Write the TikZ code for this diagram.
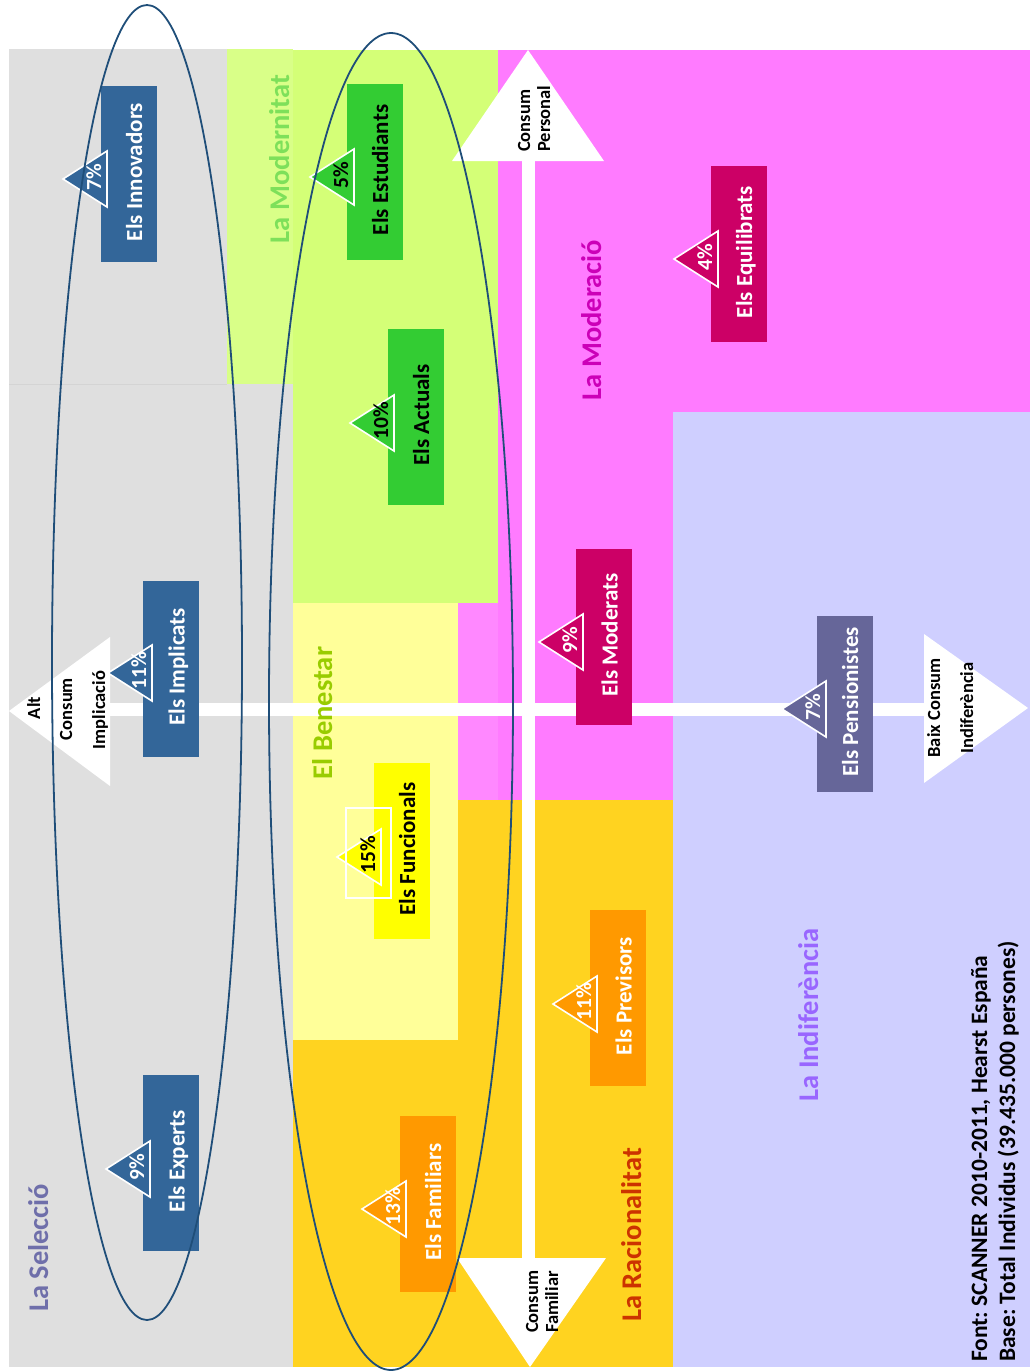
\documentclass[tikz,border=0pt]{standalone}
\usepackage{fontspec}
\setmainfont{Carlito}
\usetikzlibrary{calc}
\frenchspacing
\definecolor{cgray}{HTML}{DFDFDF}
\definecolor{cmodlight}{HTML}{D9FF88}
\definecolor{cgreen}{HTML}{D4FF77}
\definecolor{cyel}{HTML}{FFFF99}
\definecolor{cpink}{HTML}{FF7BFF}
\definecolor{cpinkb}{HTML}{FF88FF}
\definecolor{corange}{HTML}{FFD320}
\definecolor{clav}{HTML}{CFCFFF}
\definecolor{bblue}{HTML}{336699}
\definecolor{bgreen}{HTML}{33CC33}
\definecolor{byellow}{HTML}{FFFF00}
\definecolor{borange}{HTML}{FF9900}
\definecolor{bmag}{HTML}{CC0066}
\definecolor{bpurple}{HTML}{666699}
\definecolor{ellcol}{HTML}{1F4E79}
\definecolor{lsel}{HTML}{6F6FAA}
\definecolor{lmod}{HTML}{7EE05A}
\definecolor{lben}{HTML}{99CC00}
\definecolor{lmoder}{HTML}{CC00B8}
\definecolor{lrac}{HTML}{CC3300}
\definecolor{lind}{HTML}{9966FF}
\newcommand{\segm}[6]{% name, cx, cy, fill, textcolor, text
  \node[segbox, fill=#4] (#1) at (#2,#3) {};
  \node[segtext, text=#5, anchor=base] (#1t) at ($(#1.center)+(13.5,-2)$) {#6};
}
\newcommand{\pctri}[6]{% name, tipx, tipy, fill, textcolor, text
  \filldraw[fill=#4, draw=white, line width=1.6pt] (#2,#3) -- ++(44,-28) -- ++(0,56) -- cycle;
  \node[pcttext, text=#5, anchor=base] (#1) at (#2+38,#3-2) {#6};
}
\begin{document}
\frenchspacing
\begin{tikzpicture}[x=1pt,y=-1pt,
  segbox/.style={rectangle, rotate=90, minimum width=176pt, minimum height=56pt, inner sep=0pt},
  segtext/.style={rotate=90, font=\fontsize{23}{27}\selectfont\bfseries, inner sep=0pt},
  pcttext/.style={rotate=90, font=\fontsize{21.5}{24}\selectfont\bfseries, inner sep=0pt},
  grouplabel/.style={rotate=90, font=\fontsize{28.5}{32}\selectfont\bfseries, inner sep=0pt, anchor=base},
  axislabel/.style={rotate=90, font=\fontsize{18.5}{22}\selectfont\bfseries, inner sep=0pt, text=black},
  srclabel/.style={rotate=90, font=\fontsize{23.5}{27}\selectfont\bfseries\frenchspacing, inner sep=0pt, text=black, anchor=base west},
  axisbar/.style={white, line width=13pt},
  axishead/.style={fill=white},
  ellline/.style={draw=ellcol, line width=1.8pt}
]
\useasboundingbox (0,0) rectangle (1030,1371);
% background regions
\fill[cgray] (9,49) rectangle (293,1367);
\draw[cgray!95!black, line width=0.8pt] (9,384) -- (227,384);
\fill[cmodlight] (227,49) rectangle (293,384);
\fill[cgreen] (293,50) rectangle (498,603);
\fill[cyel] (293,603) rectangle (458,1040);
\fill[cpinkb] (458,603) rectangle (498,800);
\fill[cpink] (498,50) rectangle (673,800);
\fill[cpink] (673,50) rectangle (1030,412);
\fill[corange] (458,800) rectangle (673,1367);
\fill[corange] (293,1040) rectangle (458,1367);
\fill[clav] (673,412) rectangle (1030,1367);
% axes
\coordinate (hL) at (110,709);
\coordinate (hR) at (924,709);
\coordinate (vT) at (528.5,161);
\coordinate (vB) at (528.5,1258);
\draw[axisbar] (hL) -- (hR);
\draw[axisbar] (vT) -- (vB);
\fill[axishead] (9,711) -- (110,637) -- (110,786) -- cycle;
\fill[axishead] (924,634) -- (1028,708) -- (924,783) -- cycle;
\fill[axishead] (452,161) -- (528,50) -- (604,161) -- cycle;
\fill[axishead] (457,1258) -- (606,1258) -- (530,1367) -- cycle;
% axis labels
\node[axislabel, anchor=base] (aAlt) at (40,708) {Alt};
\node[axislabel, anchor=base] (aCons) at (72,709) {Consum};
\node[axislabel, anchor=base] (aImpl) at (105,710) {Implicació};
\node[axislabel, anchor=base] (aBaix) at (940,708) {Baix Consum};
\node[axislabel, anchor=base] (aIndif) at (973,708) {Indiferència};
\node[axislabel, anchor=base west] (aCP1) at (530,152) {Consum};
\node[axislabel, anchor=base west] (aCP2) at (550,152) {Personal};
\node[axislabel, anchor=base west] (aCF1) at (538,1333) {Consum};
\node[axislabel, anchor=base west] (aCF2) at (558,1333) {Familiar};
% segments
\segm{inn}{128.5}{174}{bblue}{white}{Els Innovadors}
\pctri{pinn}{63}{179}{bblue}{white}{7\%}
\segm{imp}{171}{669}{bblue}{white}{Els Implicats}
\pctri{pimp}{108}{673}{bblue}{white}{11\%}
\segm{exp}{171}{1163}{bblue}{white}{Els Experts}
\pctri{pexp}{106}{1169}{bblue}{white}{9\%}
\segm{est}{374.5}{172}{bgreen}{black}{Els Estudiants}
\pctri{pest}{310}{177}{bgreen}{black}{5\%}
\segm{act}{415.5}{417}{bgreen}{black}{Els Actuals}
\pctri{pact}{350}{423}{bgreen}{black}{10\%}
\segm{fun}{401.5}{851}{byellow}{black}{Els Funcionals}
\pctri{pfun}{337}{857}{byellow}{black}{15\%}
\draw[white, line width=1.5pt] (346,808) rectangle (391,898);
\segm{fam}{427.5}{1204}{borange}{white}{Els Familiars}
\pctri{pfam}{362}{1209}{borange}{white}{13\%}
\segm{pre}{618}{998}{borange}{white}{Els Previsors}
\pctri{ppre}{553}{1004}{borange}{white}{11\%}
\segm{mod}{604}{637}{bmag}{white}{Els Moderats}
\pctri{pmod}{539}{642}{bmag}{white}{9\%}
\segm{pen}{844.5}{704}{bpurple}{white}{Els Pensionistes}
\pctri{ppen}{782}{709}{bpurple}{white}{7\%}
\segm{equ}{738.5}{254}{bmag}{white}{Els Equilibrats}
\pctri{pequ}{674}{259}{bmag}{white}{4\%}
% group labels
\node[grouplabel, text=lsel] (gSel) at (48,1248) {La Selecció};
\node[grouplabel, text=lmod] (gMod) at (289,159) {La Modernitat};
\node[grouplabel, text=lben] (gBen) at (332,713) {El Benestar};
\node[grouplabel, text=lmoder] (gModer) at (601,320) {La Moderació};
\node[grouplabel, text=lrac] (gRac) at (641,1235) {La Racionalitat};
\node[grouplabel, text=lind] (gInd) at (818,1015) {La Indiferència};
% source
\node[srclabel] (src1) at (987,1362) {Font: SCANNER 2010-2011, Hearst España};
\node[srclabel] (src2) at (1015,1362) {Base: Total Individus (39.435.000 persones)};
% ellipses
\draw[ellline] (147,662.5) ellipse [x radius=95pt, y radius=657.5pt];
\draw[ellline] (391,701.5) ellipse [x radius=122pt, y radius=668.5pt];
\end{tikzpicture}
\end{document}
